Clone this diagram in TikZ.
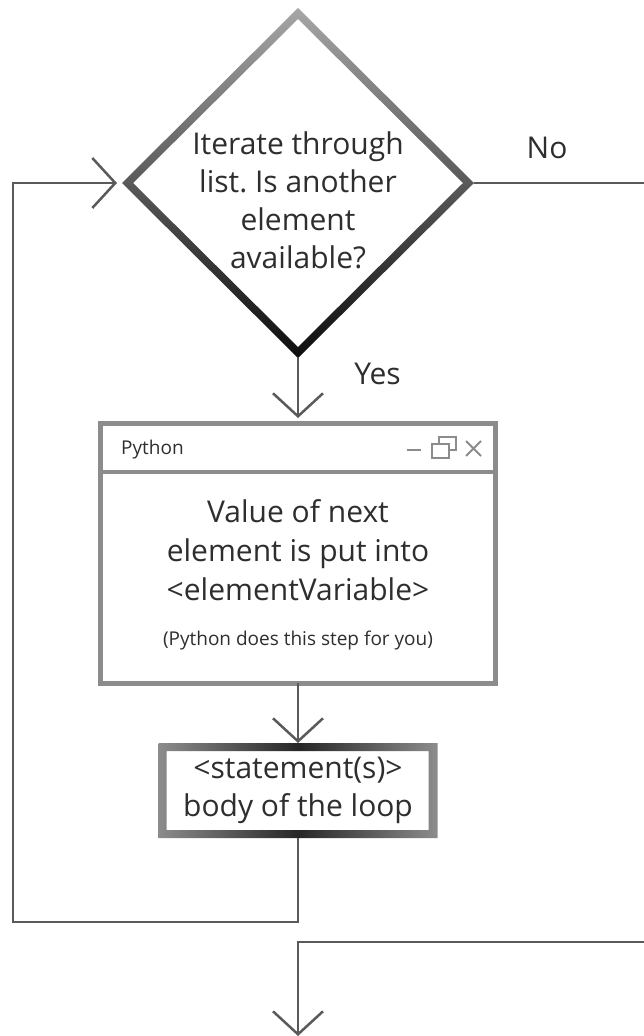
\documentclass[tikz,border=0pt]{standalone}
\usepackage{fontspec}
\setmainfont{Open Sans}
\usepackage{tikz}
\usetikzlibrary{positioning, shapes.geometric, arrows.meta}
\frenchspacing
\definecolor{lineGray}{HTML}{5A5A5A}
\definecolor{frameGray}{HTML}{8C8C8C}
\definecolor{textGray}{HTML}{2E2E2E}
\NewDocumentCommand{\BigText}{}{\fontsize{30pt}{38pt}\selectfont}
\NewDocumentCommand{\SmallText}{}{\fontsize{19pt}{23pt}\selectfont}
\tikzset{Decision/.style={%
    shape=diamond,%
    draw=none,%
    minimum width=352pt,%
    minimum height=350pt,%
    inner sep=0pt,%
    outer sep=0pt,%
}}
\tikzset{WindowBox/.style={%
    shape=rectangle,%
    draw=frameGray,%
    line width=5pt,%
    minimum width=395pt,%
    minimum height=260pt,%
    outer sep=0pt,%
}}
\tikzset{BodyBox/.style={%
    shape=rectangle,%
    minimum width=279pt,%
    minimum height=95pt,%
    inner sep=0pt,%
    outer sep=0pt,%
    align=center,%
    text=textGray,%
    font=\BigText,%
}}
\tikzset{FlowText/.style={%
    align=center,%
    inner sep=0pt,%
    text=textGray,%
    font=\BigText,%
}}
\tikzset{EdgeLabel/.style={%
    inner sep=0pt,%
    text=textGray,%
    font=\BigText,%
}}
\tikzset{FlowEdge/.style={%
    -{Straight Barb[length=23pt, width=50pt]},%
    draw=lineGray,%
    line width=2.5pt,%
}}
\tikzset{PlainEdge/.style={%
    draw=lineGray,%
    line width=2.5pt,%
}}
\begin{document}
\begin{tikzpicture}[x=1pt, y=-1pt]
    \useasboundingbox[fill=white] (0,0) rectangle (644,1036);

    % test: is another element left?
    \node[Decision] (iter) at (298,183) {};
    \shade[top color=black!35, bottom color=black!95, even odd rule]
        (iter.north) -- (iter.east) -- (iter.south) -- (iter.west) -- cycle
        ([yshift=-11pt]iter.north) -- ([xshift=-11pt]iter.east)
        -- ([yshift=11pt]iter.south) -- ([xshift=11pt]iter.west) -- cycle;
    \node[FlowText] (iterText) at ([yshift=-17pt]iter.center)
        {Iterate through\\list. Is another\\element\\available?};

    % the python window
    \node[WindowBox, below=65pt of iter] (win) {};
    \draw[frameGray, line width=3.5pt] ([yshift=-49pt]win.north west) -- ([yshift=-49pt]win.north east);
    \node[FlowText, font=\SmallText, anchor=base west] (winTitle)
        at ([xshift=20.5pt, yshift=-31pt]win.north west) {Python};
    \draw[frameGray, line width=2pt] ([xshift=-88.5pt, yshift=-27pt]win.north east) -- ++(14,0);
    \draw[frameGray, line width=1.5pt] ([xshift=-56.5pt, yshift=-14pt]win.north east) rectangle ++(17,13);
    \draw[frameGray, line width=1.5pt, fill=white] ([xshift=-63.5pt, yshift=-21pt]win.north east) rectangle ++(17,14);
    \draw[frameGray, line width=2pt]
        ([xshift=-29.5pt, yshift=-18pt]win.north east) -- ++(15,15)
        ([xshift=-29.5pt, yshift=-33pt]win.north east) -- ++(15,-15);
    \node[FlowText] (winText) at ([yshift=3pt]win.center)
        {Value of next\\[1pt]element is put into\\[1pt]<elementVariable>};
    \node[FlowText, font=\SmallText, anchor=base] (winNote)
        at ([yshift=-92pt]win.center) {(Python does this step for you)};

    % loop body
    \node[BodyBox, below=60pt of win] (body) {<statement(s)>\\body of the loop};
    \shade[left color=black!45, right color=black!45, middle color=black!85, even odd rule]
        (body.north west) rectangle (body.south east)
        ([xshift=8pt, yshift=-8pt]body.north west) rectangle ([xshift=-9pt, yshift=8pt]body.south east);

    % connectors
    \coordinate (loopCorner) at (13,922);
    \coordinate (noEnd) at (644,183);
    \coordinate (exitStart) at (644,942);
    \coordinate (exitEnd) at (298,1036);

    \draw[FlowEdge, shorten >=5pt] (iter.south) -- node[EdgeLabel, right=55pt, pos=0.25]{Yes} (win.north);
    \draw[FlowEdge] (win.south) -- (body.north);
    \draw[FlowEdge, shorten >=5pt] (body.south) |- (loopCorner) |- (iter.west);
    \draw[PlainEdge] (iter.east) -- node[EdgeLabel, above=23pt, pos=0.43]{No} (noEnd);
    \draw[FlowEdge] (exitStart) -| (exitEnd);
\end{tikzpicture}
\end{document}
